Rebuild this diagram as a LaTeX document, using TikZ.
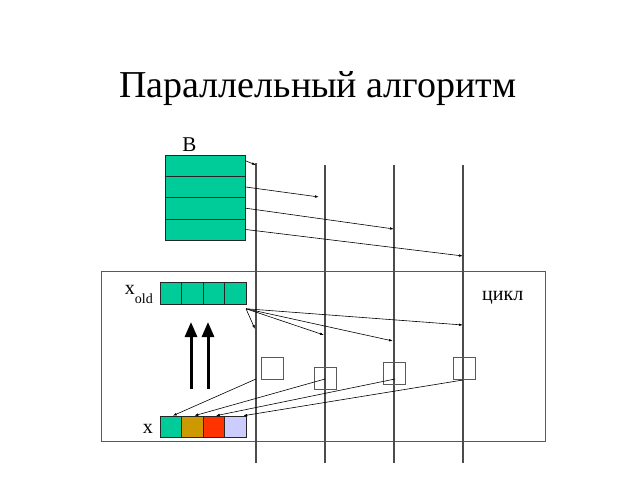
\documentclass[tikz,border=0pt]{standalone}
\usepackage{fontspec}
\setmainfont{Liberation Serif}
\usetikzlibrary{arrows.meta}

\definecolor{cgreen}{RGB}{0,204,153}
\definecolor{cgold}{RGB}{204,153,0}
\definecolor{cred}{RGB}{255,51,0}
\definecolor{clav}{RGB}{204,204,255}

\tikzstyle{rowbox} = [draw=black!85,fill=cgreen,minimum width=80pt,minimum height=21.25pt,inner sep=0pt,outer sep=0pt]
\tikzstyle{cell} = [draw=black!85,minimum width=21.5pt,minimum height=21.5pt,inner sep=0pt,outer sep=0pt]
\tikzstyle{sq} = [draw=black!65,minimum size=22pt,inner sep=0pt,outer sep=0pt,line width=0.9pt]
\tikzstyle{vline} = [draw=black!70,line width=1.3pt]
\tikzstyle{thin} = [-{Latex[length=4pt,width=2.6pt]},line width=0.6pt]
\tikzstyle{thick} = [-{Triangle[length=15pt,width=12pt]},line width=3pt]
\tikzstyle{lbl} = [inner sep=0pt,font=\fontsize{20pt}{20pt}\selectfont]

\begin{document}
\begin{tikzpicture}[x=1pt,y=-1pt]
	\useasboundingbox (0,0) rectangle (640,480);

	\node[anchor=base,inner sep=0pt,font=\fontsize{38pt}{38pt}\selectfont] (title) at (318,97) {Параллельный алгоритм};

	% loop frame
	\node[draw=black!65,line width=0.9pt,minimum width=444pt,minimum height=170pt,inner sep=0pt] (loop) at (323,356) {};
	\node[lbl,anchor=base west] (cyc) at (482,300) {цикл};

	% processor lines
	\coordinate (l1t) at (256,163); \coordinate (l1b) at (256,463);
	\coordinate (l2t) at (325,165); \coordinate (l2b) at (325,463);
	\coordinate (l3t) at (394,165); \coordinate (l3b) at (394,463);
	\coordinate (l4t) at (463,165); \coordinate (l4b) at (463,463);
	\draw[vline] (l1t) -- (l1b);
	\draw[vline] (l2t) -- (l2b);
	\draw[vline] (l3t) -- (l3b);
	\draw[vline] (l4t) -- (l4b);

	% matrix B
	\node[lbl,anchor=base,font=\fontsize{21pt}{21pt}\selectfont] (blbl) at (189.5,151) {B};
	\node[rowbox] (b1) at (205,165.6) {};
	\node[rowbox] (b2) at (205,186.9) {};
	\node[rowbox] (b3) at (205,208.1) {};
	\node[rowbox] (b4) at (205,229.4) {};

	\coordinate (p1) at (256,165);
	\coordinate (p2) at (319,197);
	\coordinate (p3) at (394,229);
	\coordinate (p4) at (463,256);
	\draw[thin] ([yshift=5pt]b1.east) -- (p1);
	\draw[thin] (b2.east) -- (p2);
	\draw[thin] (b3.east) -- (p3);
	\draw[thin] (b4.east) -- (p4);

	% x_old
	\node[lbl,anchor=base east] (xolbl) at (153,294)
		{x\raisebox{-9pt}{\fontsize{14pt}{14pt}\selectfont old}};
	\node[cell,fill=cgreen] (xo1) at (170.75,293) {};
	\node[cell,fill=cgreen] (xo2) at (192.25,293) {};
	\node[cell,fill=cgreen] (xo3) at (213.75,293) {};
	\node[cell,fill=cgreen] (xo4) at (235.25,293) {};

	\coordinate (q1) at (255,329);
	\coordinate (q2) at (324,335);
	\coordinate (q3) at (393,341);
	\coordinate (q4) at (463,325);
	\draw[thin] ([yshift=-5pt]xo4.south east) -- (q1);
	\draw[thin] ([yshift=-5pt]xo4.south east) -- (q2);
	\draw[thin] ([yshift=-5pt]xo4.south east) -- (q3);
	\draw[thin] ([yshift=-5pt]xo4.south east) -- (q4);

	% copy x -> x_old
	\coordinate (u1) at (191,389); \coordinate (v1) at (191,322);
	\coordinate (u2) at (208,389); \coordinate (v2) at (208,322);
	\draw[thick] (u1) -- (v1);
	\draw[thick] (u2) -- (v2);

	% local results
	\node[sq] (s1) at (272,368) {};
	\node[sq] (s2) at (325,378.5) {};
	\node[sq] (s3) at (394.5,373) {};
	\node[sq] (s4) at (464,368) {};

	% x
	\node[lbl,anchor=base east] (xlbl) at (153,433) {x};
	\node[cell,fill=cgreen] (x1) at (170.75,426.5) {};
	\node[cell,fill=cgold] (x2) at (192.25,426.5) {};
	\node[cell,fill=cred] (x3) at (213.75,426.5) {};
	\node[cell,fill=clav] (x4) at (235.25,426.5) {};

	\coordinate (r1) at (256,379);
	\coordinate (r2) at (325,379);
	\coordinate (r3) at (395,379);
	\coordinate (r4) at (463,380);
	\draw[thin] (r1) -- ([xshift=2pt]x1.north);
	\draw[thin] (r2) -- ([xshift=2pt]x2.north);
	\draw[thin] (r3) -- ([xshift=2pt]x3.north);
	\draw[thin] (r4) -- ([xshift=8pt]x4.north);
\end{tikzpicture}
\end{document}
